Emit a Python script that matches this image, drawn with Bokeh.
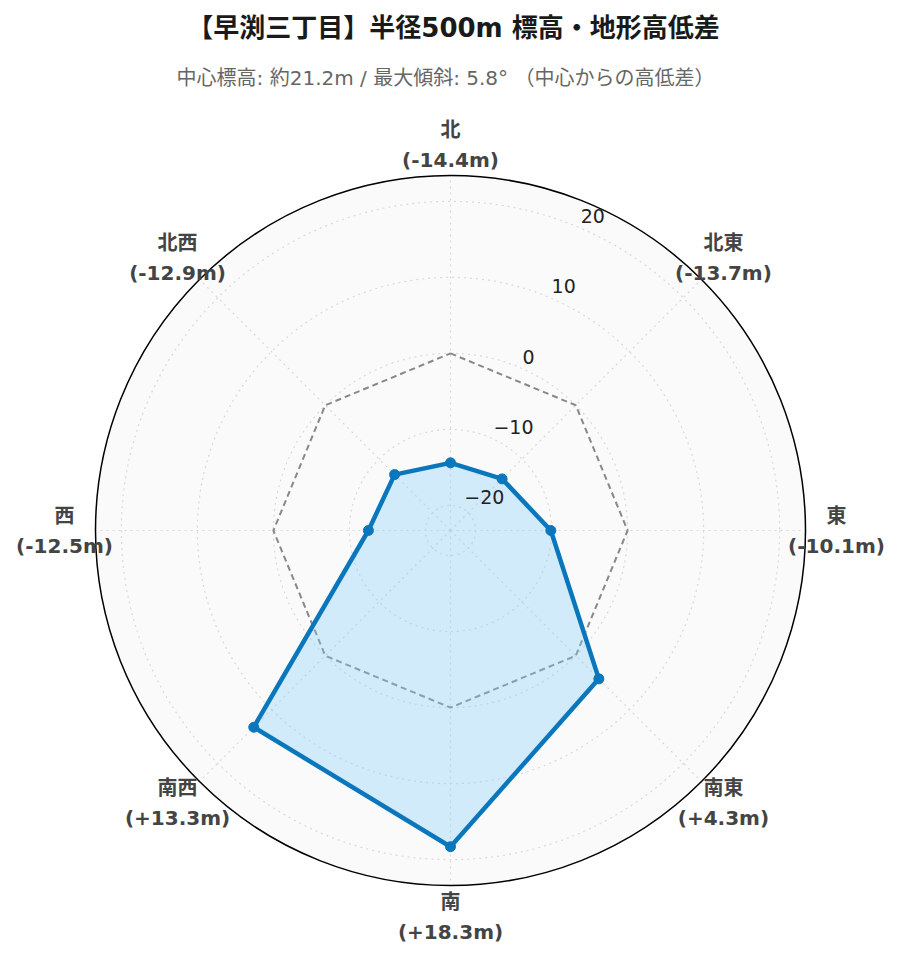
import math
from bokeh.plotting import figure
from bokeh.models import Range1d
from bokeh.core.properties import value
from bokeh.embed import file_html
from bokeh.resources import INLINE

# ---- data ----
title_text = "【早渕三丁目】半径500m 標高・地形高低差"
subtitle_text = "中心標高: 約21.2m / 最大傾斜: 5.8° （中心からの高低差）"
directions = ["北", "北東", "東", "南東", "南", "南西", "西", "北西"]
diffs = [-14.4, -13.7, -10.1, 4.3, 18.3, 13.3, -12.5, -12.9]
radial_ticks = [-20, -10, 0, 10, 20]
radial_tick_labels = ["−20", "−10", "0", "10", "20"]
reference_level = [0, 0, 0, 0, 0, 0, 0, 0]
radial_range = [-23.3, 23.4]

# ---- layout ----
W, H = 896, 950
CX, CY = 450, 530      # polar centre
R = 355                # outer radius in px
FONT = value("DejaVu Sans, Noto Sans CJK JP")

def rad(v):
    return (v - radial_range[0]) / (radial_range[1] - radial_range[0]) * R

def pol(v, i):
    th = math.radians(i * 45.0)
    r = rad(v)
    return CX + r * math.sin(th), CY - r * math.cos(th)

def polr(r, i):
    th = math.radians(i * 45.0)
    return CX + r * math.sin(th), CY - r * math.cos(th)

p = figure(width=W, height=H, x_range=Range1d(0, W), y_range=Range1d(H, 0),
           output_backend="svg", toolbar_location=None, min_border=0,
           x_axis_location=None, y_axis_location=None)
p.grid.visible = False
p.outline_line_color = None
p.background_fill_color = "white"

# polar background
p.circle(x=[CX], y=[CY], radius=R, fill_color="#fafafa", line_color=None)

# radial grid circles
for t in radial_ticks:
    p.circle(x=[CX], y=[CY], radius=rad(t), fill_color=None,
             line_color="#d9d9d9", line_width=1.2, line_dash="dotted")

# angular grid lines
n = len(directions)
x0s, y0s, x1s, y1s = [], [], [], []
for i in range(n):
    x1, y1 = polr(R, i)
    x0s.append(CX); y0s.append(CY); x1s.append(x1); y1s.append(y1)
p.segment(x0=x0s, y0=y0s, x1=x1s, y1=y1s, line_color="#d9d9d9",
          line_width=1.2, line_dash="dotted")

# outer circle
p.circle(x=[CX], y=[CY], radius=R, fill_color=None, line_color="black", line_width=1.5)

# reference (0 m) dashed octagon
ref_pts = [pol(v, i) for i, v in enumerate(reference_level)]
ref_pts.append(ref_pts[0])
p.line([q[0] for q in ref_pts], [q[1] for q in ref_pts], line_color="#888888",
       line_width=2, line_dash="6 4")

# data polygon
pts = [pol(v, i) for i, v in enumerate(diffs)]
xs = [q[0] for q in pts]
ys = [q[1] for q in pts]
p.patch(xs, ys, fill_color="#87cefa", fill_alpha=0.35, line_color=None)
p.line(xs + [xs[0]], ys + [ys[0]], line_color="#0a77bd", line_width=4.5, line_join="round")
p.scatter(xs, ys, size=10, fill_color="#0a77bd", line_color="#0a77bd")

# radial tick labels (along 22.5 deg)
tx, ty = [], []
for t in radial_ticks:
    th = math.radians(22.5)
    r = rad(t) + 11
    tx.append(CX + r * math.sin(th)); ty.append(CY - r * math.cos(th))
p.text(x=tx, y=ty, text=radial_tick_labels, text_align="left", text_baseline="middle",
       text_font=FONT, text_font_size="19px", text_color="#222222")

# angular labels
lx, ly1, ly2, l1, l2 = [], [], [], [], []
for i, (d, v) in enumerate(zip(directions, diffs)):
    x, y = polr(386, i)
    lx.append(x); ly1.append(y - 15); ly2.append(y + 15)
    l1.append(d); l2.append(f"({v:+.1f}m)")
p.text(x=lx, y=ly1, text=l1, text_align="center", text_baseline="middle",
       text_font=FONT, text_font_size="20px", text_font_style="bold", text_color="#444444")
p.text(x=lx, y=ly2, text=l2, text_align="center", text_baseline="middle",
       text_font=FONT, text_font_size="20px", text_font_style="bold", text_color="#444444")

# titles
p.text(x=[453], y=[27], text=[title_text], text_align="center", text_baseline="middle",
       text_font=FONT, text_font_size="26px", text_font_style="bold", text_color="#1a1a1a")
p.text(x=[445], y=[77], text=[subtitle_text], text_align="center", text_baseline="middle",
       text_font=FONT, text_font_size="20px", text_color="#666666")

open("out.html", "w").write(file_html(p, INLINE))
